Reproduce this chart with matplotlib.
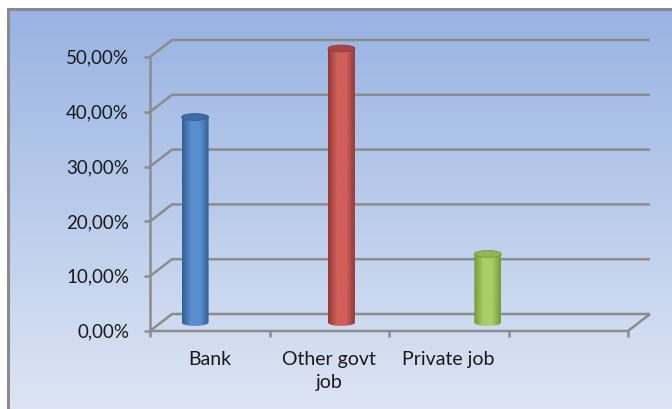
import numpy as np
import matplotlib
matplotlib.use("Agg")
import matplotlib.pyplot as plt
from matplotlib.colors import LinearSegmentedColormap
from matplotlib.patches import Ellipse, PathPatch
from matplotlib.path import Path

plt.rcParams["font.family"] = ["Lato", "DejaVu Sans"]

# ── Data ─────────────────────────────────────────────────────────────────────
CATEGORIES = ["Bank", "Other govt\njob", "Private job"]
SHARES = [37.5, 50.0, 12.5]          # percent
Y_TICKS = [0, 10, 20, 30, 40, 50]
N_SLOTS = 4                          # category slots on the floor (last one empty)

# ── Styling ──────────────────────────────────────────────────────────────────
GRID = "#8c8c8c"
TEXT = "#1a1a1a"
CYL_COLORS = [  # (edge shade, highlight, top cap)
    ("#345f92", "#5a8fcf", "#3d6ca4"),
    ("#943a37", "#d15f5b", "#a94542"),
    ("#78993a", "#aacd66", "#94b552"),
]

# pixel geometry of the plot box (figure 672 x 410 px)
W, H = 672, 410
X0, CAT_PX = 150, 119.5       # front y-axis position, width of one category
Y0, PCT_PX = 332, 5.48        # floor line, pixels per percent
DX = 22 / CAT_PX              # depth offset of the back wall (data units)
DY = 17 / PCT_PX
CYL_START, CYL_STEP = 0.285, 1.225
CYL_W = 27 / CAT_PX
CAP_H = 3.4 / PCT_PX          # half height of the ellipse caps

fig = plt.figure(figsize=(W / 100, H / 100), dpi=100)
ax = fig.add_axes([0, 0, 1, 1])
ax.set_xlim(-X0 / CAT_PX, (W - X0) / CAT_PX)
ax.set_ylim((Y0 - H) / PCT_PX, Y0 / PCT_PX)
ax.axis("off")

xl, xr = ax.get_xlim()
yb, yt = ax.get_ylim()

# white page with the chart area framed on the top and left
fig.patch.set_facecolor("white")
frame_l = xl + 8 / CAT_PX
frame_t = yt - 10 / PCT_PX
bg = LinearSegmentedColormap.from_list("bg", ["#dde5f4", "#98b3e2"])
ax.imshow(np.linspace(0, 1, 256)[:, None], cmap=bg, aspect="auto", origin="lower",
          extent=(frame_l, xr, yb, frame_t), zorder=0)
ax.plot([frame_l, frame_l, xr], [yb, frame_t, frame_t], color="#8a8a8a", lw=2.2,
        solid_joinstyle="miter", zorder=1)

# ── Walls, floor and gridlines ───────────────────────────────────────────────
line_kw = dict(color=GRID, lw=1.8, solid_capstyle="butt", zorder=2)
for v in Y_TICKS:
    ax.plot([0, DX, N_SLOTS + DX], [v, v + DY, v + DY], **line_kw)
# floor outline
ax.plot([0, N_SLOTS, N_SLOTS + DX], [0, 0, DY], **line_kw)
# front value axis and its ticks
ax.plot([0, 0], [0, Y_TICKS[-1]], **line_kw)
for v in Y_TICKS:
    ax.plot([-6 / CAT_PX, 0], [v, v], **line_kw)
for i in range(N_SLOTS + 1):
    ax.plot([i, i], [0, -6 / PCT_PX], **line_kw)

for v in Y_TICKS:
    ax.text(-21 / CAT_PX, v, f"{v:.2f}%".replace(".", ","), ha="right", va="center",
            fontsize=13.5, color=TEXT)
for i, name in enumerate(CATEGORIES):
    ax.text(i + 0.5, -19 / PCT_PX, name, ha="center", va="top", fontsize=14,
            color=TEXT, linespacing=1.45)

# ── Cylinders ────────────────────────────────────────────────────────────────
for i, (val, (dark, light, cap)) in enumerate(zip(SHARES, CYL_COLORS)):
    cx = CYL_START + i * CYL_STEP + DX / 2
    base = DY / 2
    top = base + val
    left, right = cx - CYL_W / 2, cx + CYL_W / 2

    t = np.linspace(0, np.pi, 40)
    arc_x = cx + CYL_W / 2 * np.cos(t)
    arc_y = base - CAP_H * np.sin(t)
    verts = [(left, top), (right, top)] + list(zip(arc_x, arc_y)) + [(left, top)]
    body = Path(verts, closed=True)
    patch = PathPatch(body, facecolor="none", edgecolor="none", zorder=3)
    ax.add_patch(patch)

    shade = LinearSegmentedColormap.from_list(
        f"cyl{i}", [dark, light, light, dark], N=256)
    grad = np.concatenate([np.linspace(0, 0.38, 40), np.linspace(0.4, 1, 60)])
    im = ax.imshow(grad[None, :], cmap=shade, aspect="auto",
                   extent=(left, right, base - CAP_H, top), zorder=3)
    im.set_clip_path(patch)

    ax.add_patch(Ellipse((cx, top), CYL_W, 2 * CAP_H, facecolor=cap,
                         edgecolor=dark, lw=0.6, zorder=4))

fig.savefig("out.png", dpi=100)
